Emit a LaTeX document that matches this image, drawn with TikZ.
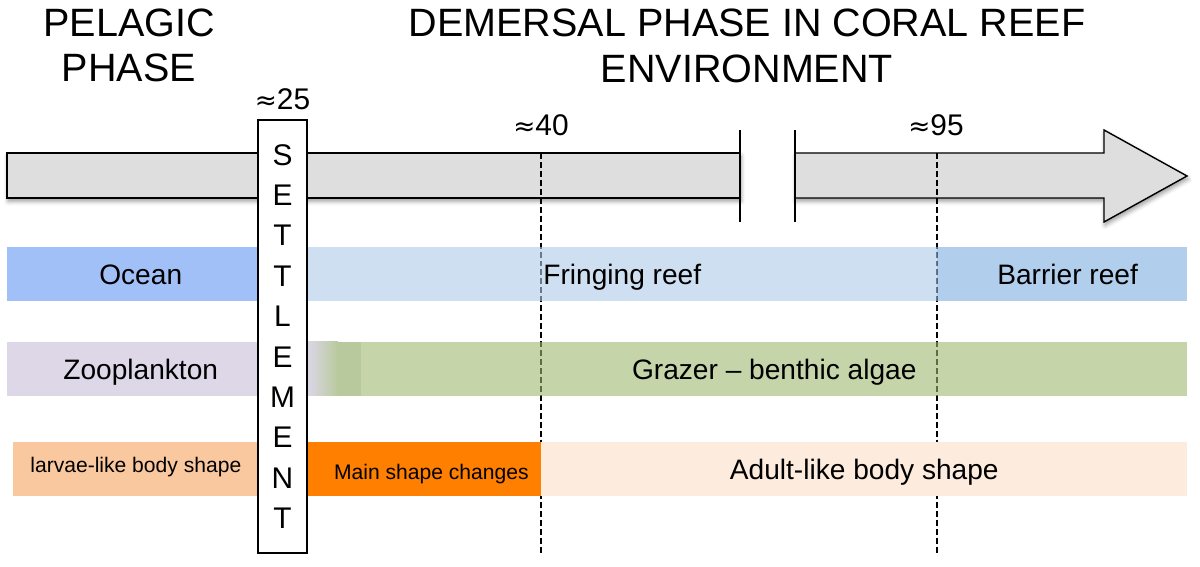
\documentclass[tikz,border=0pt]{standalone}
\usepackage{fontspec}
\setmainfont{Liberation Sans}
\newfontfamily\approxfont{DejaVu Sans}
\usepackage{tikz}
\usetikzlibrary{positioning, shadows.blur}
\definecolor{bargray}{RGB}{222, 222, 222}
\definecolor{oceanblue}{RGB}{162, 192, 248}
\definecolor{fringeblue}{RGB}{175, 202, 233}
\definecolor{barrierblue}{RGB}{125, 173, 223}
\definecolor{zoolav}{RGB}{221, 215, 232}
\definecolor{grazergreen}{RGB}{158, 183, 112}
\definecolor{grazerdark}{RGB}{184, 202, 157}
\definecolor{larvaepeach}{RGB}{249, 200, 159}
\definecolor{mainorange}{RGB}{255, 127, 0}
\definecolor{adultcream}{RGB}{253, 235, 221}
\newcommand{\approxsign}{{\approxfont\fontsize{15}{18}\selectfont ≈}}
\tikzset{
  band/.style={rectangle, anchor=north west, inner sep=0pt, minimum width=#1,
              minimum height=1.08cm, text height=11.5pt, text depth=0pt,
              font=\fontsize{16}{19}\selectfont},
  band/.default=5cm,
  seeband/.style={band=#1, fill opacity=0.6, text opacity=1},
  seeband/.default=5cm,
  smallband/.style={band=#1, font=\fontsize{12}{14}\selectfont},
  smallband/.default=5cm,
  phasetitle/.style={align=center, font=\fontsize{22.5}{26}\selectfont},
  agelabel/.style={font=\fontsize{17}{20}\selectfont},
  timebar/.style={draw=black, line width=0.8pt, fill=bargray,
              blur shadow={shadow xshift=0.6pt, shadow yshift=-1.8pt,
                           shadow blur radius=2.5pt, shadow opacity=40}},
  barend/.style={line width=1.3pt},
  guide/.style={black, line width=1pt, dash pattern=on 3.4pt off 1.7pt},
  settlebox/.style={rectangle, draw=black, line width=1.1pt, fill=white,
              minimum width=0.98cm, minimum height=8.66cm, inner sep=0pt,
              align=center, font=\fontsize{17}{23}\selectfont},
}

\begin{document}
\begin{tikzpicture}[x=0.02cm, y=-0.02cm]
  \useasboundingbox (0,0) rectangle (1200,567);

  \node[phasetitle] (pelagic) at (129,45.5) {PELAGIC\\PHASE};
  \node[phasetitle] (demersal) at (747,46) {DEMERSAL PHASE IN CORAL REEF\\ENVIRONMENT};

  % time axis, broken after 40
  \draw[timebar] (7,153) rectangle (740,198);
  \draw[timebar] (795,153) -- (1104,153) -- (1104,130) -- (1187,176)
        -- (1104,222) -- (1104,198) -- (795,198) -- cycle;
  \draw[barend] (740,130) -- (740,222);
  \draw[barend] (795,130) -- (795,222);
  \coordinate (m40) at (541,153);
  \coordinate (m95) at (937,153);
  \coordinate (mend) at (541,553);

  \draw[guide] (m40) -- (mend);
  \draw[guide] (m95) -- (m95 |- mend);

  % habitat
  \node[band=5.02cm, fill=oceanblue] (ocean) at (7,247) {\hspace{9pt}Ocean};
  \node[seeband=12.6cm, fill=fringeblue] (fringing) at (307,247) {Fringing reef};
  \node[seeband=5cm, fill=barrierblue] (barrier) at (937,247) {\hspace{6pt}Barrier reef};

  % diet
  \node[band=5.02cm, fill=zoolav] (zoo) at (7,342) {\hspace{9pt}Zooplankton};
  \shade[left color=zoolav, right color=grazerdark] (307,342) rectangle (338,396);
  \fill[grazerdark] (338,342) rectangle (361,396);
  \node[seeband=16.52cm, fill=grazergreen] (grazer) at (361,342) {Grazer -- benthic algae};

  % body shape
  \node[smallband=4.9cm, fill=larvaepeach, text height=8.6pt, text depth=5.2pt] (larvae) at (13,442) {larvae-like body shape};
  \node[smallband=4.68cm, fill=mainorange, text height=12pt] (mainshape) at (307,442) {\hspace{8pt}Main shape changes};
  \node[band=12.92cm, fill=adultcream] (adult) at (541,442) {Adult-like body shape};

  \node[settlebox] (settle) at (282.5,336.5) {S\\E\\T\\T\\L\\E\\M\\E\\N\\T};
  \node[agelabel, above=2pt of settle] (age25) {\approxsign25};
  \node[agelabel] (age40) at (541,125) {\approxsign40};
  \node[agelabel] (age95) at (936,125) {\approxsign95};
\end{tikzpicture}
\end{document}
